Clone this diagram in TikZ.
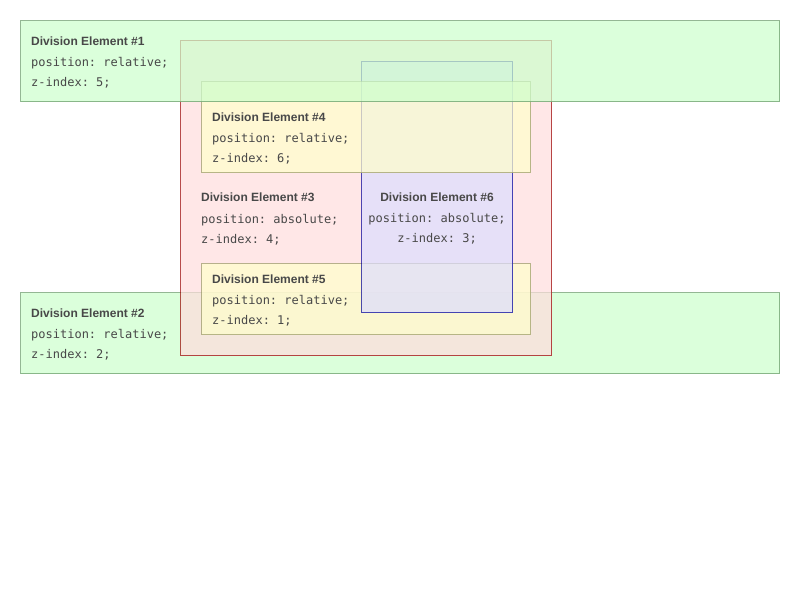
\documentclass[tikz,border=0pt]{standalone}
\usepackage{fontspec}
\setmainfont{Liberation Sans}
\newfontfamily\monofont{DejaVu Sans Mono}
\frenchspacing
\definecolor{gfill}{HTML}{CCFFCC}
\definecolor{gborder}{HTML}{669966}
\definecolor{pfill}{HTML}{FFDDDD}
\definecolor{pborder}{HTML}{990000}
\definecolor{yfill}{HTML}{FFFFCC}
\definecolor{yborder}{HTML}{999966}
\definecolor{bfill}{HTML}{DDDDFF}
\definecolor{bborder}{HTML}{000099}
\definecolor{txt}{HTML}{484848}
\tikzset{
  divbox/.style={rectangle, inner sep=0pt, line width=1pt, fill opacity=0.7, draw opacity=0.7},
  greenbox/.style={divbox, fill=gfill, draw=gborder},
  pinkbox/.style={divbox, fill=pfill, draw=pborder},
  yellowbox/.style={divbox, fill=yfill, draw=yborder},
  bluebox/.style={divbox, fill=bfill, draw=bborder},
  ttl/.style={anchor=base west, inner sep=0pt, text=txt, font=\fontsize{12}{14}\selectfont\bfseries\frenchspacing},
  mono/.style={anchor=base west, inner sep=0pt, text=txt, font=\fontsize{12}{14}\selectfont\monofont\frenchspacing},
}
\begin{document}
\begin{tikzpicture}[x=1pt,y=-1pt]
\useasboundingbox (0,0) rectangle (800,600);
% Division Element #2
\node[greenbox, minimum width=759pt, minimum height=81pt] (div2) at (400,333) {};
\node[ttl] (t2a) at (31,317.5) {Division Element \#2};
\node[mono] (t2b) at (31,338.5) {position: relative;};
\node[mono] (t2c) at (31,358.5) {z-index: 2;};
% Division Element #3
\node[pinkbox, minimum width=371pt, minimum height=315pt] (div3) at (366,198) {};
\node[ttl] (t3a) at (201,201.7) {Division Element \#3};
\node[mono] (t3b) at (201,223) {position: absolute;};
\node[mono] (t3c) at (201,243) {z-index: 4;};
% Division Element #5
\node[yellowbox, minimum width=329pt, minimum height=71pt] (div5) at (366,299) {};
\node[ttl] (t5a) at (212,283.3) {Division Element \#5};
\node[mono] (t5b) at (212,304.5) {position: relative;};
\node[mono] (t5c) at (212,324.5) {z-index: 1;};
% Division Element #6
\node[bluebox, minimum width=151pt, minimum height=251pt] (div6) at (437,187) {};
\node[ttl, anchor=base] (t6a) at (437,201) {Division Element \#6};
\node[mono, anchor=base] (t6b) at (437,222) {position: absolute;};
\node[mono, anchor=base] (t6c) at (437,242) {z-index: 3;};
% Division Element #4
\node[yellowbox, minimum width=329pt, minimum height=91pt] (div4) at (366,127) {};
\node[ttl] (t4a) at (212,121.5) {Division Element \#4};
\node[mono] (t4b) at (212,142.5) {position: relative;};
\node[mono] (t4c) at (212,162.5) {z-index: 6;};
% Division Element #1
\node[greenbox, minimum width=759pt, minimum height=81pt] (div1) at (400,61) {};
\node[ttl] (t1a) at (31,45.5) {Division Element \#1};
\node[mono] (t1b) at (31,66.5) {position: relative;};
\node[mono] (t1c) at (31,86.5) {z-index: 5;};
\end{tikzpicture}
\end{document}
